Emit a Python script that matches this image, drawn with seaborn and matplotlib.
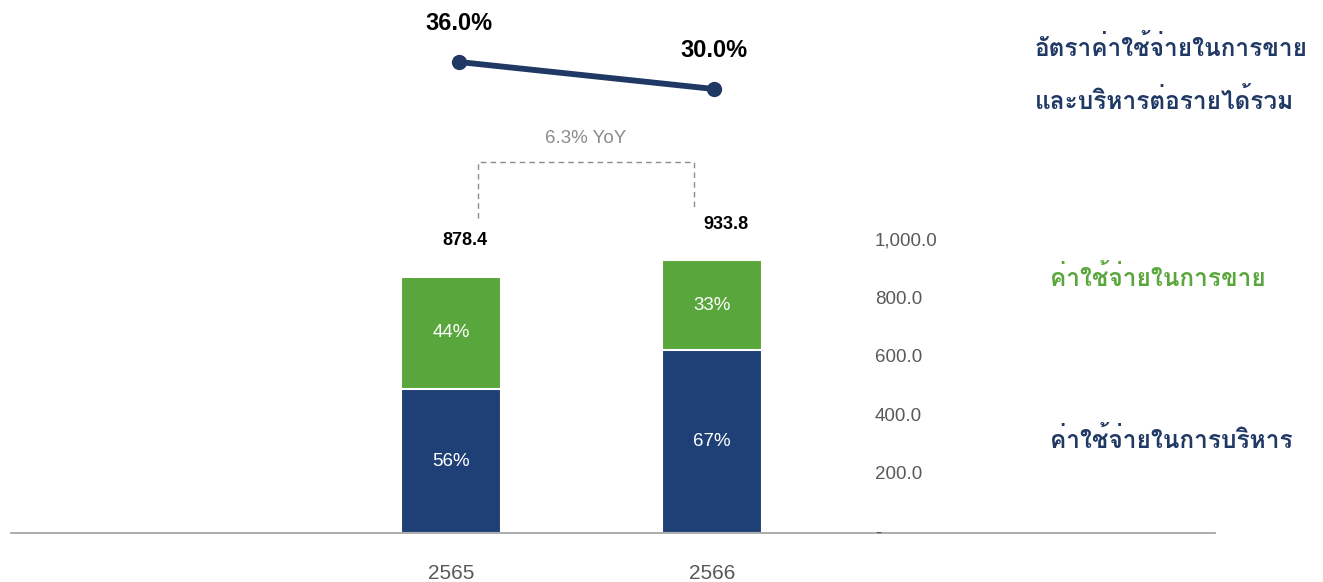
import matplotlib
matplotlib.use("Agg")
import matplotlib.pyplot as plt
import matplotlib.transforms as mtransforms
from matplotlib import font_manager
from matplotlib.ft2font import FT2Font
import pandas as pd
import seaborn as sns

# ---- data ----
years = ["2565", "2566"]
admin_expense = [491.9, 625.6]      # ค่าใช้จ่ายในการบริหาร
selling_expense = [386.5, 308.2]    # ค่าใช้จ่ายในการขาย
total_expense = [878.4, 933.8]
sga_ratio = [36.0, 30.0]            # % of total revenue
y_ticks = [0, 200, 400, 600, 800, 1000]

title_lines = ["อัตราค่าใช้จ่ายในการขาย", "และบริหารต่อรายได้รวม"]
selling_label = "ค่าใช้จ่ายในการขาย"
admin_label = "ค่าใช้จ่ายในการบริหาร"

NAVY = "#1F4077"
LINE_NAVY = "#1F3864"
GREEN = "#59A73C"
GREY_TXT = "#595959"
GREY_LINE = "#A6A6A6"
DASH = "#8C8C8C"


def find_thai_family():
    checked = set()
    for f in font_manager.fontManager.ttflist:
        if f.name in checked:
            continue
        checked.add(f.name)
        try:
            cmap = FT2Font(f.fname).get_charmap()
        except Exception:
            continue
        if 0x0E01 in cmap and 0x0E2D in cmap and 0x0E48 in cmap:
            return f.name
    return None


sns.set_theme(style="white")
thai = find_thai_family()
families = ["Liberation Sans", "DejaVu Sans"]
thai_families = ([thai] if thai else []) + families
plt.rcParams["font.family"] = families

W, H = 1323, 582
fig = plt.figure(figsize=(W / 100, H / 100), dpi=100)


def rect(x0, y0, x1, y1):
    return [x0 / W, 1 - y1 / H, (x1 - x0) / W, (y1 - y0) / H]


# ---- stacked bars ----
ax = fig.add_axes(rect(11, 241, 1215, 533))
df = pd.DataFrame({"year": years, "admin": admin_expense,
                   "selling": selling_expense, "total": total_expense})
bw = 100 / 261
sns.barplot(data=df, x="year", y="total", color=GREEN, saturation=1,
            width=bw, edgecolor="white", linewidth=1.5, ax=ax)
sns.barplot(data=df, x="year", y="admin", color=NAVY, saturation=1,
            width=bw, edgecolor="white", linewidth=1.5, ax=ax)
ax.set_xlim(-440 / 261, (1215 - 451) / 261)
ax.set_ylim(0, 1000)
ax.set_xlabel("")
ax.set_ylabel("")
ax.set_yticks([])
ax.set_xticks(range(len(years)))
ax.set_xticklabels(years, fontsize=15, color=GREY_TXT)
ax.tick_params(axis="x", length=0, pad=22)
for s in ["top", "left", "right"]:
    ax.spines[s].set_visible(False)
ax.spines["bottom"].set_color(GREY_LINE)
ax.spines["bottom"].set_linewidth(1.3)

for i, (a, s, t) in enumerate(zip(admin_expense, selling_expense, total_expense)):
    ax.text(i, a / 2, f"{a / t * 100:.0f}%", color="white", fontsize=13.5,
            ha="center", va="center")
    ax.text(i, a + s / 2, f"{s / t * 100:.0f}%", color="white", fontsize=13.5,
            ha="center", va="center")
    ax.annotate(f"{t:,.1f}", xy=(i, t), xytext=(10, 26), textcoords="offset points",
                ha="center", va="center", fontsize=13, fontweight="bold",
                color="black", annotation_clip=False)

# value axis labels drawn inside the plot area
ytrans = mtransforms.blended_transform_factory(fig.transFigure, ax.transData)
for v in y_ticks:
    ax.text(875 / W, v, f"{v:,.1f}" if v else "-", transform=ytrans,
            ha="left", va="center", fontsize=13.5, color=GREY_TXT, clip_on=False)

# YoY bracket between the two totals
yoy = (total_expense[1] / total_expense[0] - 1) * 100
x_left, x_right = 0 + 27 / 261, 1 - 18 / 261
y_top = 1270
ax.plot([x_left, x_left, x_right, x_right],
        [total_expense[0] + 200, y_top, y_top, total_expense[1] + 180],
        color=DASH, lw=1, ls=(0, (4, 3)), clip_on=False)
ax.text((x_left + x_right) / 2, y_top + 82, f"{yoy:.1f}% YoY", ha="center",
        va="center", fontsize=13.5, color=DASH, clip_on=False)

# ---- ratio line ----
ax2 = fig.add_axes(rect(11, 0, 1215, 130))
ax2.patch.set_alpha(0)
ratio_df = pd.DataFrame({"x": [0, 1], "ratio": sga_ratio})
sns.lineplot(data=ratio_df, x="x", y="ratio", color=LINE_NAVY, lw=4.2,
             marker="o", markersize=11, markeredgewidth=0, ax=ax2)
ax2.set_xlim(-448 / 255, (1215 - 459) / 255)
ax2.set_ylim(36 - 68 / 4.5, 36 - 68 / 4.5 + 130 / 4.5)
ax2.axis("off")
for i, r in enumerate(sga_ratio):
    ax2.annotate(f"{r:.1f}%", xy=(i, r), xytext=(0, 27.5), textcoords="offset points",
                 ha="center", va="center", fontsize=17, fontweight="bold",
                 color="black", annotation_clip=False)

# ---- Thai captions ----
cap = dict(family=thai_families, fontsize=17.6, fontweight="bold",
           ha="left", va="baseline")
fig.text(1035 / W, 1 - 56 / H, title_lines[0], color=LINE_NAVY, **cap)
fig.text(1035 / W, 1 - 109 / H, title_lines[1], color=LINE_NAVY, **cap)
fig.text(1050 / W, 1 - 286 / H, selling_label, color=GREEN, **cap)
fig.text(1050 / W, 1 - 448 / H, admin_label, color=LINE_NAVY, **cap)

fig.savefig("out.png", dpi=100, facecolor="white")
